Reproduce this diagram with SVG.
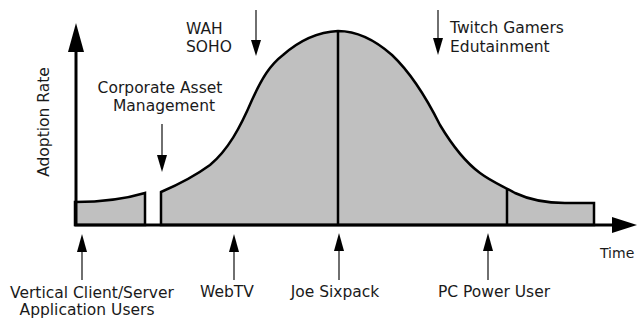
<svg xmlns="http://www.w3.org/2000/svg" width="637" height="320" viewBox="0 0 637 320">
  <style>
    .lbl { font-family: "DejaVu Sans", "Liberation Sans", sans-serif; font-size: 15.5px; fill: #1a1a1a; }
    .mid { text-anchor: middle; }
    .small { font-size: 14px; }
    .area { fill: #c0c0c0; stroke: #000; stroke-width: 2.5; stroke-linejoin: miter; }
    .div { stroke: #000; stroke-width: 2.5; fill: none; }
    .axis { stroke: #000; stroke-width: 3; fill: none; }
    .ptr { stroke: #222; stroke-width: 1.3; fill: none; }
    .head { fill: #000; }
  </style>
  <rect width="637" height="320" fill="#fff"/>

  <!-- adoption curve areas -->
  <g id="curve">
    <path class="area" d="M75,225 L75,202 C100,202 125,199 145,193 L145,225 Z"/>
    <path class="area" d="M161,225 L161,192 C175,186 195,176 210,165 C228,150 240,128 252,100 C262,78 270,65 283,55 C300,40 318,32 338,31 C358,31 375,40 392,55 C410,72 425,95 440,125 C452,145 465,162 480,173 C492,182 503,186 515,193 C530,200 545,203 565,203 L594,203 L594,225 Z"/>
    <line class="div" x1="338" y1="31" x2="338" y2="225"/>
    <line class="div" x1="507" y1="189" x2="507" y2="225"/>
  </g>

  <!-- axes -->
  <g id="axes">
    <line class="axis" x1="76" y1="50" x2="76" y2="225"/>
    <polygon class="head" points="76,23 68,52 84,52"/>
    <line class="axis" x1="74.5" y1="225" x2="614" y2="225"/>
    <polygon class="head" points="637,225 612,217 612,233"/>
    <text class="lbl mid" transform="translate(49,122) rotate(-90)">Adoption Rate</text>
    <text class="lbl small" x="600" y="258">Time</text>
  </g>

  <!-- pointer arrows -->
  <g id="connectors">
    <line class="ptr" x1="162" y1="124" x2="162" y2="157"/>
    <polygon class="head" points="162,172 157,155 167,155"/>
    <line class="ptr" x1="256" y1="10" x2="256" y2="42"/>
    <polygon class="head" points="256,56 251,40 261,40"/>
    <line class="ptr" x1="438" y1="10" x2="438" y2="40"/>
    <polygon class="head" points="438,55 433,38 443,38"/>
    <line class="ptr" x1="82" y1="250" x2="82" y2="280"/>
    <polygon class="head" points="82,234 77,252 87,252"/>
    <line class="ptr" x1="234" y1="250" x2="234" y2="280"/>
    <polygon class="head" points="234,234 229,252 239,252"/>
    <line class="ptr" x1="339" y1="250" x2="339" y2="280"/>
    <polygon class="head" points="339,233 334,251 344,251"/>
    <line class="ptr" x1="488" y1="250" x2="488" y2="280"/>
    <polygon class="head" points="488,233 483,251 493,251"/>
  </g>

  <g id="corporate">
    <text class="lbl mid" x="160" y="93">Corporate Asset</text>
    <text class="lbl mid" x="164" y="111">Management</text>
  </g>
  <g id="wah">
    <text class="lbl" x="186" y="34">WAH</text>
    <text class="lbl" x="186" y="52">SOHO</text>
  </g>
  <g id="twitch">
    <text class="lbl" x="450" y="33">Twitch Gamers</text>
    <text class="lbl" x="450" y="52">Edutainment</text>
  </g>
  <g id="vertical">
    <text class="lbl mid" x="92" y="298">Vertical Client/Server</text>
    <text class="lbl mid" x="87" y="315">Application Users</text>
  </g>
  <g id="webtv">
    <text class="lbl mid" x="227" y="297">WebTV</text>
  </g>
  <g id="joe">
    <text class="lbl mid" x="335" y="297">Joe Sixpack</text>
  </g>
  <g id="pcpower">
    <text class="lbl mid" x="494" y="297">PC Power User</text>
  </g>
</svg>
